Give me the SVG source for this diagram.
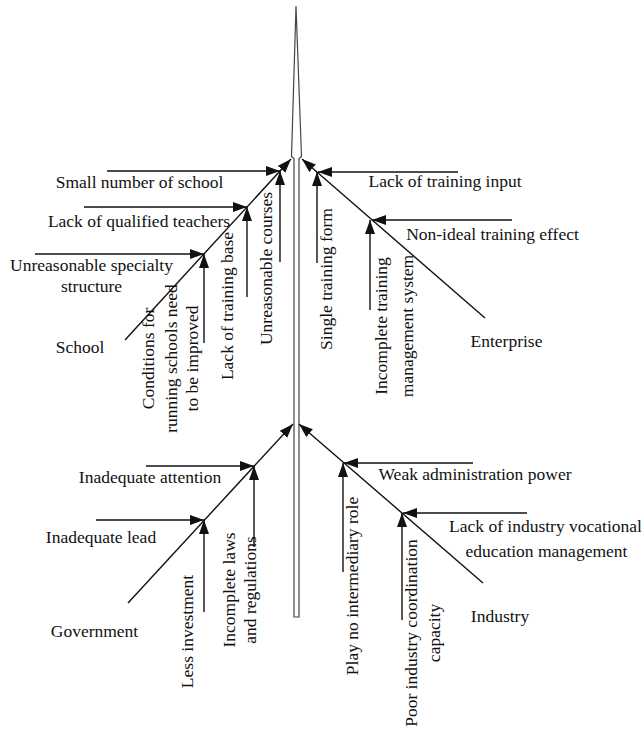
<svg xmlns="http://www.w3.org/2000/svg" width="644" height="729" viewBox="0 0 644 729">
<style>
text{font-family:"Liberation Serif","Times New Roman",serif;font-size:17.5px;fill:#111;text-anchor:middle}
.c{stroke:#111;stroke-width:1.4;fill:none;marker-end:url(#ah)}
.spine{fill:#fff;stroke:#444;stroke-width:1.2}
</style>
<defs>
<marker id="ah" markerUnits="userSpaceOnUse" markerWidth="15" markerHeight="11" refX="14" refY="5" orient="auto">
<path d="M0,0 L14,5 L0,10 Z" fill="#111"/>
</marker>
</defs>
<g id="spine"><path class="spine" d="M296,6 L301.5,156.5 L299,158.5 L299,617 L294,617 L294,158.5 L291.5,156.5 Z"/></g>
<g id="connectors">
<line class="c" x1="125" y1="340" x2="291" y2="159"/>
<line class="c" x1="485" y1="318" x2="302" y2="159"/>
<line class="c" x1="128" y1="603" x2="293" y2="424"/>
<line class="c" x1="483" y1="583" x2="299" y2="424"/>
<line class="c" x1="107" y1="171" x2="280" y2="171"/>
<line class="c" x1="84" y1="207" x2="247" y2="207"/>
<line class="c" x1="35" y1="254" x2="204" y2="254"/>
<line class="c" x1="280" y1="262" x2="280" y2="171"/>
<line class="c" x1="247" y1="297" x2="247" y2="207"/>
<line class="c" x1="204" y1="343" x2="204" y2="254"/>
<line class="c" x1="458" y1="172" x2="318" y2="172"/>
<line class="c" x1="512" y1="220" x2="372" y2="220"/>
<line class="c" x1="317" y1="263" x2="317" y2="172"/>
<line class="c" x1="370" y1="310" x2="370" y2="220"/>
<line class="c" x1="146" y1="466" x2="254" y2="466"/>
<line class="c" x1="96" y1="520" x2="204" y2="520"/>
<line class="c" x1="204" y1="612" x2="204" y2="520"/>
<line class="c" x1="254" y1="547" x2="254" y2="466"/>
<line class="c" x1="473" y1="463" x2="344" y2="463"/>
<line class="c" x1="527" y1="513" x2="403" y2="513"/>
<line class="c" x1="343" y1="572" x2="343" y2="463"/>
<line class="c" x1="402" y1="620" x2="402" y2="513"/>
</g>
<g id="school"><text x="80" y="352.7">School</text></g>
<g id="small-number"><text x="139.5" y="188">Small number of school</text></g>
<g id="qualified-teachers"><text x="139" y="227">Lack of qualified teachers</text></g>
<g id="specialty"><text x="91.5" y="270.7">Unreasonable specialty</text><text x="91.5" y="291.7">structure</text></g>
<g id="conditions"><text transform="translate(154,358.5) rotate(-90)">Conditions for</text><text transform="translate(176.5,358.5) rotate(-90)">running schools need</text><text transform="translate(198,358.5) rotate(-90)">to be improved</text></g>
<g id="training-base"><text transform="translate(233,306) rotate(-90)">Lack of training base</text></g>
<g id="courses"><text transform="translate(272,268.5) rotate(-90)">Unreasonable courses</text></g>
<g id="enterprise"><text x="506.5" y="346.7">Enterprise</text></g>
<g id="training-input"><text x="445" y="186.7">Lack of training input</text></g>
<g id="training-effect"><text x="492.5" y="240">Non-ideal training effect</text></g>
<g id="training-form"><text transform="translate(331.5,279) rotate(-90)">Single training form</text></g>
<g id="training-mgmt"><text transform="translate(386.5,326) rotate(-90)">Incomplete training</text><text transform="translate(412.5,326) rotate(-90)">management system</text></g>
<g id="government"><text x="94.5" y="637">Government</text></g>
<g id="attention"><text x="150" y="483">Inadequate attention</text></g>
<g id="lead"><text x="101" y="543">Inadequate lead</text></g>
<g id="investment"><text transform="translate(193,631.5) rotate(-90)">Less investment</text></g>
<g id="laws"><text transform="translate(235,590) rotate(-90)">Incomplete laws</text><text transform="translate(256,590) rotate(-90)">and regulations</text></g>
<g id="industry"><text x="500" y="621.7">Industry</text></g>
<g id="admin-power"><text x="475" y="480">Weak administration power</text></g>
<g id="vocational"><text x="545.5" y="531.7">Lack of industry vocational</text><text x="546.5" y="556.7">education management</text></g>
<g id="intermediary"><text transform="translate(358,586) rotate(-90)">Play no intermediary role</text></g>
<g id="coordination"><text transform="translate(416.5,633) rotate(-90)">Poor industry coordination</text><text transform="translate(439.5,633) rotate(-90)">capacity</text></g>
</svg>
